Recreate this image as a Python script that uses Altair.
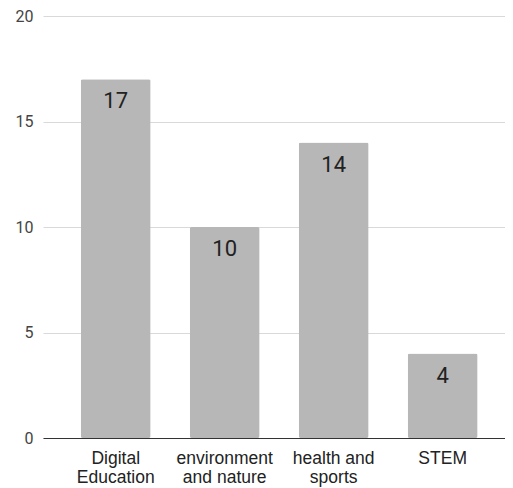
import altair as alt
import pandas as pd

categories = ["Digital\nEducation", "environment\nand nature", "health and\nsports", "STEM"]
values = [17, 10, 14, 4]

df = pd.DataFrame({"cat": categories, "val": values})

x = alt.X("cat:N", sort=categories, title=None,
          scale=alt.Scale(paddingInner=0.358, paddingOuter=0.2985, align=0.58),
          axis=alt.Axis(labelAngle=0, labelExpr="split(datum.label, '\\n')",
                        ticks=False, domainColor="#333333", labelColor="#222222",
                        labelFontSize=17.5, labelPadding=11, labelFont="Liberation Sans",
                        labelLineHeight=19))
y = alt.Y("val:Q", title=None,
          scale=alt.Scale(domain=[0, 20]),
          axis=alt.Axis(values=[0, 5, 10, 15, 20], domain=False, ticks=False,
                        gridColor="#d9d9d9", labelColor="#444444", labelFontSize=16,
                        labelPadding=10, labelFont="Roboto"))

bars = alt.Chart(df).mark_bar(color="#b7b7b7", cornerRadius=2).encode(x=x, y=y)
text = alt.Chart(df).mark_text(baseline="middle", dy=22, fontSize=22, color="#222222",
                               font="Roboto").encode(x=x, y=y, text="val:Q")

chart = (bars + text).properties(
    width=462, height=422,
    autosize=alt.AutoSizeParams(type="none"),
    padding={"left": 35, "top": 8, "right": 0, "bottom": 50},
).configure_view(stroke=None)

chart.save("out.html", embed_options={"renderer": "svg", "actions": False})
